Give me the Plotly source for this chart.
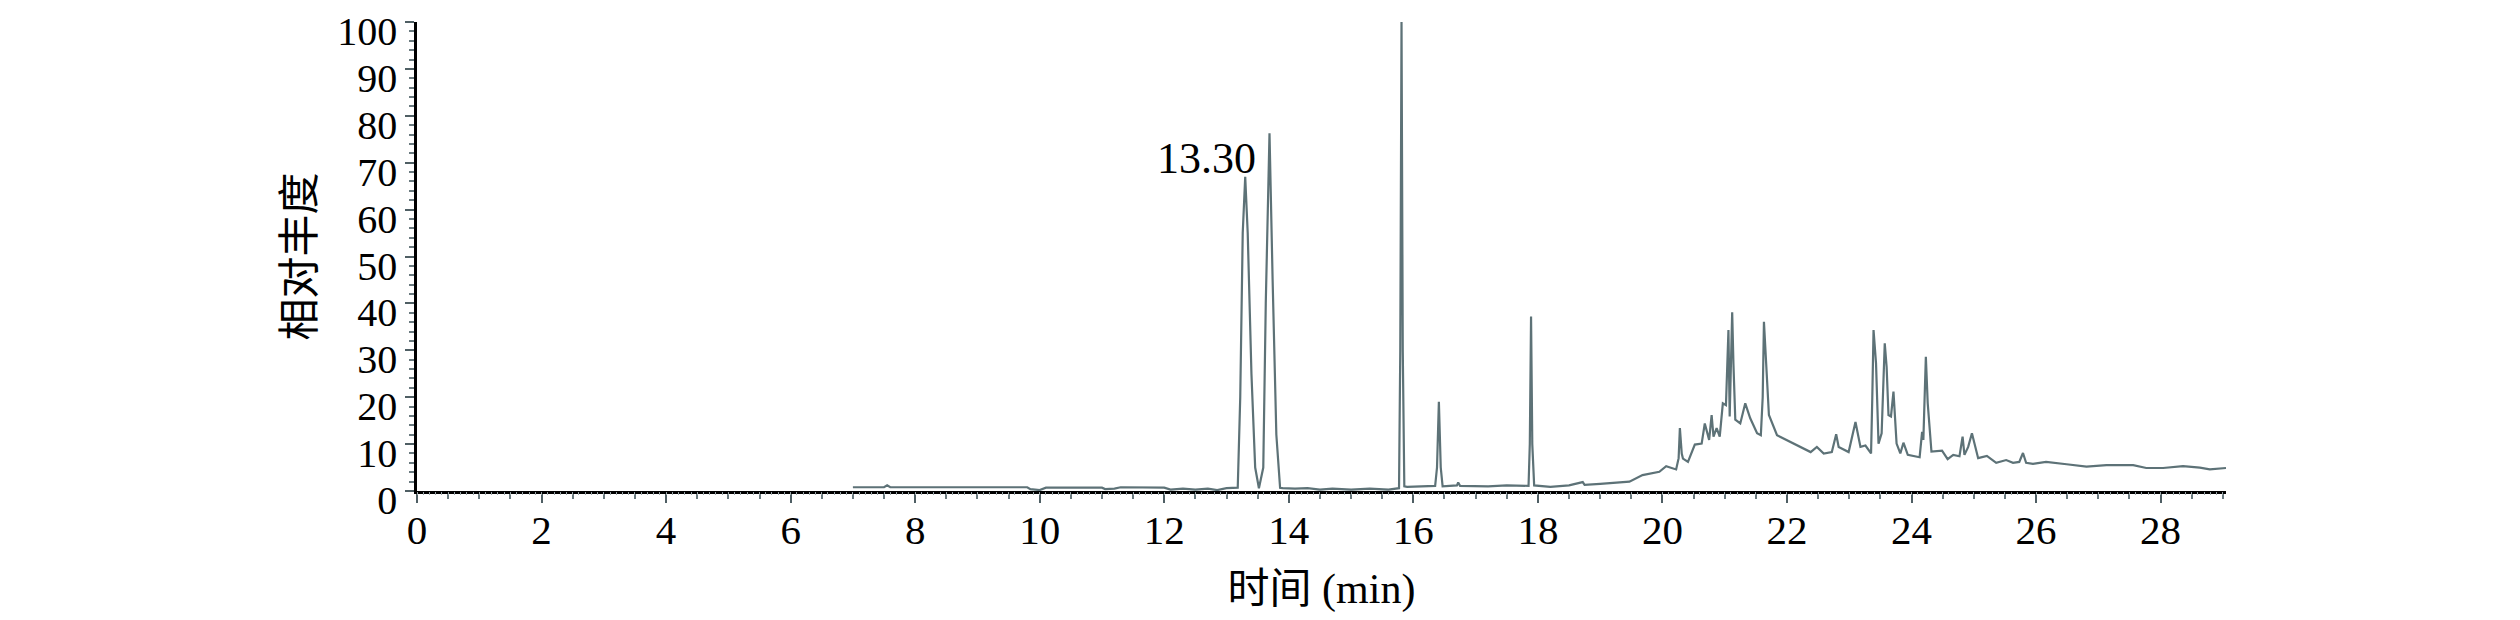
import plotly.graph_objects as go

# Retention time (min) and relative abundance (%)
time_min = [
    7.00, 7.50, 7.55, 7.60, 9.80, 9.85, 10.00, 10.10, 11.00, 11.05, 11.20, 11.30,
    12.00, 12.10, 12.30, 12.50, 12.70, 12.85, 13.00, 13.18,
    13.22, 13.26, 13.30, 13.34, 13.40, 13.46, 13.52,
    13.59, 13.63, 13.69, 13.74, 13.80, 13.86,
    13.90, 14.10, 14.30, 14.50, 14.70, 15.00, 15.30, 15.60, 15.77,
    15.79, 15.81, 15.83, 15.855,
    15.90, 16.10, 16.35, 16.38, 16.41, 16.44, 16.47,
    16.70, 16.72, 16.75, 17.20, 17.50, 17.85, 17.87, 17.89, 17.91, 17.94,
    18.20, 18.50, 18.72, 18.75, 19.00, 19.30, 19.47, 19.68, 19.95, 20.06, 20.22,
    20.26, 20.28, 20.31, 20.33, 20.41, 20.52, 20.63, 20.68, 20.75, 20.79, 20.82,
    20.87, 20.92, 20.97, 21.02, 21.05, 21.06, 21.08, 21.10, 21.12, 21.14, 21.17,
    21.25, 21.33, 21.41, 21.52, 21.58, 21.61, 21.63, 21.67, 21.71, 21.84, 21.95,
    22.16, 22.38, 22.48, 22.59, 22.72, 22.79, 22.83, 22.99, 23.10, 23.18, 23.26,
    23.35, 23.37, 23.39, 23.43, 23.47, 23.52, 23.57, 23.60, 23.63, 23.67, 23.71,
    23.76, 23.82, 23.87, 23.94, 24.13, 24.17, 24.19, 24.23, 24.26, 24.32, 24.49,
    24.58, 24.67, 24.77, 24.82, 24.85, 24.91, 24.97, 25.07, 25.21, 25.36, 25.52,
    25.63, 25.73, 25.79, 25.84, 25.95, 26.16, 26.49, 26.81, 27.13, 27.56, 27.77,
    28.04, 28.36, 28.63, 28.79, 29.05,
]
abundance = [
    0.8, 0.8, 1.2, 0.8, 0.8, 0.4, 0.2, 0.7, 0.7, 0.4, 0.5, 0.8,
    0.7, 0.3, 0.5, 0.3, 0.5, 0.2, 0.6, 0.7,
    20.0, 55.0, 67.0, 55.0, 25.0, 5.0, 0.6,
    5.0, 40.0, 76.3, 45.0, 12.0, 0.7,
    0.6, 0.5, 0.6, 0.3, 0.5, 0.3, 0.5, 0.3, 0.6,
    30.0, 100.0, 30.0, 1.0,
    0.9, 1.0, 1.1, 5.0, 19.0, 5.0, 1.0,
    1.2, 1.8, 1.1, 1.0, 1.2, 1.1, 10.0, 37.2, 10.0, 1.2,
    0.9, 1.2, 1.9, 1.3, 1.5, 1.8, 2.0, 3.4, 4.1, 5.3, 4.6,
    7.0, 13.4, 8.0, 6.9, 6.2, 9.9, 10.1, 14.4, 10.9, 16.2, 11.6,
    13.4, 11.6, 18.7, 18.3, 30.8, 34.3, 15.9, 25.0, 38.1, 27.2, 15.2,
    14.4, 18.7, 15.5, 12.3, 11.9, 20.0, 36.1, 27.2, 16.2, 11.9, 11.2,
    9.7, 8.3, 9.4, 8.0, 8.3, 12.1, 9.4, 8.3, 14.7, 9.4, 9.7,
    8.0, 20.0, 34.3, 27.2, 10.1, 12.3, 31.5, 26.5, 16.2, 15.9, 21.2,
    10.1, 8.0, 10.3, 7.7, 7.2, 12.6, 10.9, 28.6, 18.7, 8.4, 8.6,
    6.8, 7.7, 7.4, 11.6, 7.7, 9.4, 12.3, 7.0, 7.5, 6.0, 6.6,
    6.0, 6.2, 8.1, 6.0, 5.8, 6.2, 5.7, 5.2, 5.5, 5.5, 4.9,
    4.9, 5.3, 5.0, 4.6, 4.9,
]

y_tick_vals = [0, 10, 20, 30, 40, 50, 60, 70, 80, 90, 100]
x_tick_vals = [0, 2, 4, 6, 8, 10, 12, 14, 16, 18, 20, 22, 24, 26, 28]
peak_label = "13.30"
peak_label_pos = (13.50, 71.0)

serif = "Liberation Serif"
cjk = "Liberation Serif, Noto Sans CJK SC"

fig = go.Figure()
fig.add_trace(go.Scatter(
    x=time_min, y=abundance, mode="lines",
    line=dict(color="#5d7277", width=2.2),
    showlegend=False, hoverinfo="skip",
))

# The page body adds an 8 px margin, so the figure is 8 px smaller than the window
fig.update_layout(
    width=2512, height=612,
    margin=dict(l=409, r=294, t=14, b=129),
    paper_bgcolor="white", plot_bgcolor="white",
    font=dict(family=serif, size=41, color="black"),
    xaxis=dict(
        range=[0, 29.05], tickvals=x_tick_vals, automargin=False,
        ticks="outside", ticklen=9, tickwidth=2, tickcolor="#4f5f64",
        showline=True, linecolor="black", linewidth=3,
        showgrid=False, zeroline=False, ticklabeloverflow="allow",
        ticklabelstandoff=-8,
        minor=dict(dtick=0.5, tick0=0, ticks="outside", ticklen=5, tickwidth=1.5,
                   tickcolor="#6a7a7f", showgrid=False),
        tickfont=dict(family=serif, size=41),
        title=dict(text="时间 (min)", font=dict(family=cjk, size=42), standoff=22),
    ),
    xaxis2=dict(
        overlaying="x", matches="x", range=[0, 29.05], side="bottom", automargin=False,
        dtick=0.1, tick0=0, ticks="outside", ticklen=3, tickwidth=1,
        tickcolor="#9aa5a8", showticklabels=False, showline=False,
        showgrid=False, zeroline=False,
    ),
    yaxis=dict(
        range=[0, 100], tickvals=y_tick_vals, automargin=False,
        ticks="outside", ticklen=9, tickwidth=2, tickcolor="#4f5f64",
        showline=True, linecolor="black", linewidth=2.5,
        showgrid=False, zeroline=False, ticklabeloverflow="allow",
        ticklabelshift=9,
        minor=dict(dtick=2, tick0=0, ticks="outside", ticklen=5, tickwidth=1.5,
                   tickcolor="#6a7a7f", showgrid=False),
        tickfont=dict(family=serif, size=40),
        title=dict(text="相对丰度", font=dict(family=cjk, size=42), standoff=10),
    ),
    annotations=[dict(
        x=peak_label_pos[0], y=peak_label_pos[1], xref="x", yref="y",
        text=peak_label, showarrow=False, xanchor="right", yanchor="middle",
        font=dict(family=serif, size=44, color="black"),
    )],
)

fig.add_trace(go.Scatter(x=[0], y=[0], xaxis="x2", mode="markers",
                         marker=dict(opacity=0), showlegend=False, hoverinfo="skip"))

fig.write_html("out.html")
